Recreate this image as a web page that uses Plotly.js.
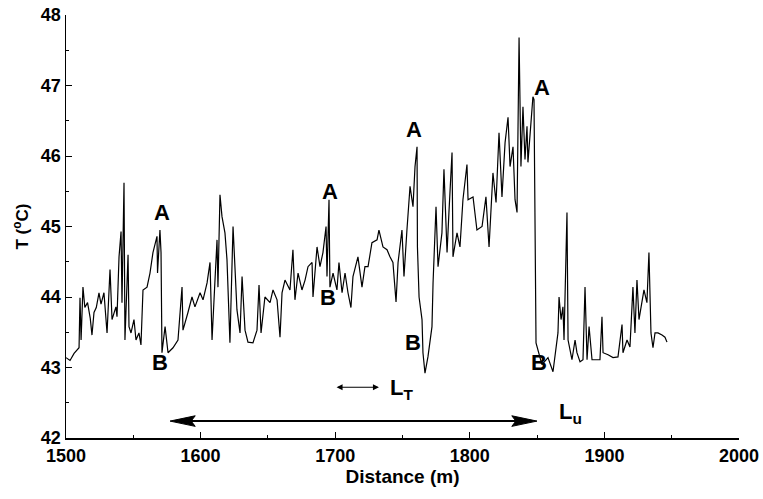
<!DOCTYPE html>
<html>
<head>
<meta charset="utf-8">
<script src="https://cdn.plot.ly/plotly-3.0.1.min.js"></script>
<style>html,body{margin:0;padding:0;background:#fff;}#chart{width:763px;height:499px;}</style>
</head>
<body>
<div id="chart"></div>
<script>
// Distance (m)
const distance = [
1500.0,1503.0,1506.0,1509.7,1510.4,1511.2,1512.6,1514.0,1516.0,1518.0,1519.3,1520.8,1522.5,1524.5,1526.0,1528.2,1530.5,1532.7,1534.2,1537.1,
1537.9,1539.4,1540.9,1541.6,1543.1,1543.8,1546.1,1546.8,1548.3,1550.5,1552.0,1554.2,1555.7,1557.2,1560.2,1562.4,1564.6,1567.6,1568.0,1569.8,
1570.6,1571.3,1573.6,1575.8,1579.5,1583.2,1586.2,1586.9,1590.6,1593.6,1595.8,1599.6,1601.8,1604.8,1607.0,1608.5,1610.7,1612.2,1612.9,1614.4,
1615.9,1618.1,1619.6,1621.8,1624.1,1627.0,1629.3,1630.8,1633.0,1635.2,1638.9,1641.9,1643.4,1644.9,1647.8,1651.6,1653.8,1656.8,1659.0,1660.5,
1662.7,1666.4,1668.6,1670.1,1672.4,1675.3,1677.6,1679.8,1682.8,1683.5,1686.5,1688.7,1690.9,1693.2,1693.9,1695.4,1696.1,1698.4,1701.3,1702.8,
1705.1,1707.3,1709.5,1711.7,1713.2,1716.9,1719.9,1722.1,1724.4,1727.3,1731.1,1732.5,1735.5,1738.5,1740.7,1742.9,1745.2,1746.7,1749.6,1751.1,
1753.3,1755.6,1757.8,1759.3,1760.8,1761.1,1762.3,1764.5,1765.2,1766.7,1768.9,1771.9,1772.7,1774.9,1776.4,1779.3,1780.8,1783.1,1784.5,1786.8,
1787.5,1790.5,1792.7,1794.9,1797.9,1798.7,1802.4,1805.3,1809.1,1812.0,1814.3,1817.2,1819.5,1821.7,1823.9,1826.2,1828.4,1829.9,1832.1,1833.6,
1835.1,1836.6,1838.0,1839.5,1841.0,1842.5,1843.2,1846.2,1846.9,1847.7,1849.2,1853.6,1858.1,1861.8,1865.5,1866.3,1867.8,1869.2,1870.0,1872.2,
1873.0,1875.9,1878.2,1879.6,1881.9,1884.1,1885.6,1887.1,1888.6,1890.8,1894.5,1896.7,1898.2,1899.0,1902.7,1906.4,1910.1,1913.1,1913.8,1916.8,
1919.0,1921.2,1922.7,1924.2,1925.7,1927.9,1929.4,1931.6,1933.1,1934.6,1936.1,1937.6,1939.8,1942.8,1945.0,1946.5
];
// Temperature T (oC)
const temperature = [
43.14,43.10,43.20,43.28,43.99,43.39,44.14,43.85,43.92,43.70,43.46,43.78,43.85,44.06,43.90,44.06,43.49,44.39,43.68,43.86,
43.72,44.57,44.93,43.92,45.62,43.39,44.60,43.58,43.49,43.68,43.39,43.49,43.32,44.10,44.14,44.34,44.63,44.86,44.34,44.95,
44.63,43.21,43.58,43.21,43.28,43.39,44.14,43.53,43.78,44.00,43.86,44.06,43.96,44.20,44.49,43.39,44.24,44.81,44.14,45.45,
45.14,44.91,44.53,43.35,45.00,43.82,43.49,44.29,43.53,43.36,43.35,43.53,44.17,43.49,44.00,43.92,44.10,43.96,43.43,44.06,
44.24,44.10,44.67,43.96,44.34,44.10,44.24,44.43,44.49,44.00,44.71,44.43,44.63,45.00,44.29,45.38,44.14,44.34,44.10,44.49,
44.06,44.34,44.06,43.85,44.29,44.57,44.14,44.43,44.43,44.77,44.81,44.95,44.71,44.67,44.57,44.49,43.93,44.49,44.95,44.29,
44.95,45.57,45.28,45.85,46.13,44.71,44.00,43.68,43.21,42.92,43.15,43.58,44.20,45.28,44.43,44.91,45.81,44.63,45.20,46.05,
44.57,44.91,44.71,45.38,45.88,45.38,45.42,44.95,45.00,45.42,44.71,45.76,45.34,46.33,45.42,46.19,46.55,45.85,46.13,45.38,
45.20,47.68,45.85,46.70,45.95,46.42,45.91,46.62,46.84,46.80,43.35,43.04,43.14,42.94,43.49,44.00,43.68,43.86,43.39,45.20,
43.39,43.11,43.39,43.21,43.08,43.11,44.14,43.11,43.58,43.11,43.11,43.11,43.72,43.21,43.18,43.14,43.15,43.61,43.21,43.39,
43.29,44.14,43.49,44.24,43.68,43.96,44.10,43.92,44.63,43.49,43.28,43.49,43.49,43.46,43.43,43.36
];
const xTickVals = [1500,1600,1700,1800,1900,2000];
const yTickVals = [42,43,44,45,46,47,48];

const FAM = '"Liberation Sans",Arial,Helvetica,sans-serif';
const tickFont = {family: FAM, size: 18, color: '#000', weight: 'bold'};
const titleFont = {family: FAM, size: 19, color: '#000', weight: 'bold'};
const labelFont = {family: FAM, size: 22, color: '#000', weight: 'bold'};

function lab(text, x, y) {
  return {text: '<b>' + text + '</b>', x: x, y: y, xref: 'x', yref: 'y', showarrow: false, font: labelFont};
}

const layout = {
  width: 763, height: 499,
  margin: {l: 66, r: 24, t: 15, b: 61},
  paper_bgcolor: '#fff', plot_bgcolor: '#fff',
  showlegend: false,
  xaxis: {
    range: [1500, 2000], tickvals: xTickVals, ticks: 'inside', ticklen: 6, tickcolor: '#000',
    showline: true, linecolor: '#000', linewidth: 1.5, showgrid: false, zeroline: false,
    minor: {ticks: 'inside', dtick: 50, ticklen: 3, tickcolor: '#000'},
    tickfont: tickFont, ticklabeloverflow: 'allow', ticklabelstandoff: 1,
    title: {text: '<b>Distance (m)</b>', font: titleFont, standoff: 2}
  },
  yaxis: {
    range: [42, 48], tickvals: yTickVals, ticks: 'inside', ticklen: 6, tickcolor: '#000',
    showline: true, linecolor: '#000', linewidth: 1.5, showgrid: false, zeroline: false,
    minor: {ticks: 'inside', dtick: 0.5, ticklen: 3, tickcolor: '#000'},
    tickfont: tickFont, ticklabeloverflow: 'allow',
    title: {text: '<b>T (<sup>o</sup>C)</b>', font: Object.assign({}, titleFont, {size: 17}), standoff: 8}
  },
  annotations: [
    lab('A', 1571.3, 45.20), lab('B', 1569.8, 43.07),
    lab('A', 1696.1, 45.49), lab('B', 1694.7, 44.00),
    lab('A', 1758.5, 46.38), lab('B', 1757.8, 43.36),
    lab('A', 1853.6, 46.97), lab('B', 1851.4, 43.07),
    {text: '<b>L<sub>T</sub></b>', x: 1749.5, y: 42.70, xref: 'x', yref: 'y', showarrow: false, font: labelFont},
    {text: '<b>L<sub>u</sub></b>', x: 1874.5, y: 42.36, xref: 'x', yref: 'y', showarrow: false, font: labelFont},
    {text: '', x: 1732.5, y: 42.72, ax: 1699.9, ay: 42.72, xref: 'x', yref: 'y', axref: 'x', ayref: 'y',
     showarrow: true, arrowside: 'end+start', arrowhead: 2, arrowsize: 1, arrowwidth: 1.2, arrowcolor: '#000'}
  ],
  shapes: [
    {type: 'line', xref: 'x', yref: 'y', x0: 1590, x1: 1838, y0: 42.24, y1: 42.24, line: {color: '#000', width: 2}},
    {type: 'path', xref: 'x', yref: 'y', path: 'M1577.3,42.24 L1596,42.315 L1593,42.24 L1596,42.165 Z', fillcolor: '#000', line: {color: '#000', width: 1}},
    {type: 'path', xref: 'x', yref: 'y', path: 'M1849.9,42.24 L1831.2,42.315 L1834.2,42.24 L1831.2,42.165 Z', fillcolor: '#000', line: {color: '#000', width: 1}}
  ]
};

Plotly.newPlot('chart', [{
  x: distance, y: temperature, type: 'scatter', mode: 'lines',
  line: {color: '#000', width: 1.2}
}], layout, {displayModeBar: false, staticPlot: true});
</script>
</body>
</html>
